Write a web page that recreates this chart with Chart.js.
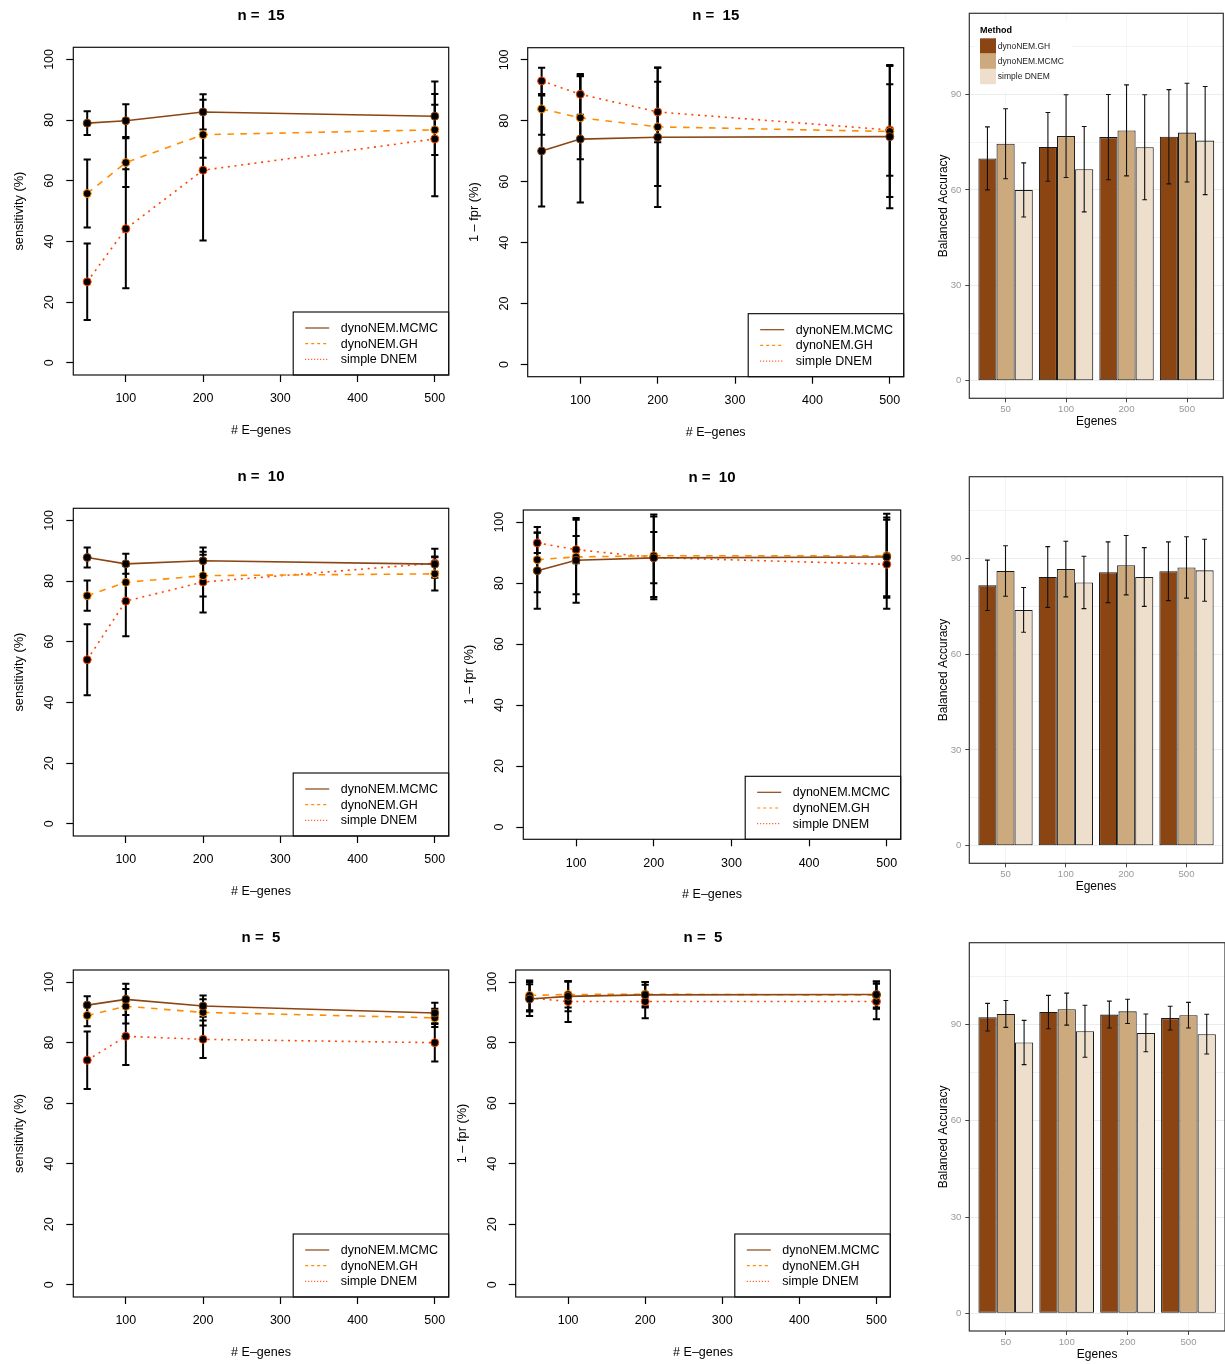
<!DOCTYPE html>
<html lang="en">
<head>
<meta charset="UTF-8">
<title>dynoNEM simulation results</title>
<script src="https://cdn.jsdelivr.net/npm/chart.js@4.4.1/dist/chart.umd.min.js"></script>
<style>
  body { margin: 0; background: #fff; }
  #page { position: relative; width: 1225px; height: 1364px; overflow: hidden; background: #fff; }
  #page canvas { position: absolute; }
</style>
</head>
<body>
<div id="page"></div>
<script>
// ---- data ----
const egenes = [50, 100, 200, 500];
const lineMethods = ['dynoNEM.MCMC', 'dynoNEM.GH', 'simple DNEM'];
const barMethods = ['dynoNEM.GH', 'dynoNEM.MCMC', 'simple DNEM'];
const pctTicks = [0, 20, 40, 60, 80, 100];
const geneTicks = [100, 200, 300, 400, 500];
const accTicks = [0, 15, 30, 45, 60, 75, 90, 105];

// rows: MCMC, GH, simple DNEM
const sens15Mean = [[79.0, 79.8, 82.7, 81.3], [55.8, 66.0, 75.2, 76.8], [26.7, 44.2, 63.5, 73.8]];
const sens15Err  = [[3.9, 5.4, 5.8, 7.3], [11.2, 8.0, 7.6, 8.3], [12.6, 19.6, 23.2, 18.9]];
const fpr15Mean  = [[70.1, 74.0, 74.6, 74.8], [83.9, 81.0, 78.0, 76.5], [93.1, 88.7, 82.9, 77.0]];
const fpr15Err   = [[18.2, 20.8, 22.9, 23.5], [8.5, 13.6, 19.4, 21.5], [4.3, 6.7, 9.9, 15.0]];
const sens10Mean = [[87.8, 85.7, 86.7, 85.6], [75.2, 79.6, 81.8, 82.4], [54.1, 73.4, 79.7, 85.9]];
const sens10Err  = [[3.3, 3.3, 4.4, 2.5], [5.0, 6.0, 6.9, 5.5], [11.7, 11.6, 10.0, 4.8]];
const fpr10Mean  = [[84.1, 87.5, 88.3, 88.6], [87.7, 88.6, 89.0, 89.0], [93.2, 91.0, 88.4, 86.2]];
const fpr10Err   = [[12.5, 13.9, 13.6, 12.9], [10.7, 12.2, 13.5, 13.8], [3.3, 4.5, 8.4, 14.6]];
const sens5Mean  = [[92.4, 94.3, 92.1, 89.8], [89.0, 92.0, 90.0, 88.2], [74.2, 82.1, 81.1, 80.0]];
const sens5Err   = [[2.9, 5.2, 3.5, 3.4], [3.6, 5.7, 4.3, 3.0], [9.5, 9.5, 6.2, 6.2]];
const fpr5Mean   = [[94.4, 95.3, 95.8, 95.9], [95.6, 95.9, 96.0, 95.7], [94.8, 93.6, 93.6, 93.6]];
const fpr5Err    = [[5.6, 4.9, 4.2, 4.3], [4.9, 4.3, 4.0, 4.5], [4.5, 6.8, 5.5, 5.9]];

// rows: GH, MCMC, simple DNEM
const acc15Mean = [[69.9, 73.5, 76.6, 76.7], [74.5, 76.9, 78.7, 78.0], [60.0, 66.5, 73.4, 75.5]];
const acc15Err  = [[9.9, 10.8, 13.4, 14.8], [11.0, 13.0, 14.3, 15.5], [8.5, 13.4, 16.5, 17.0]];
const acc10Mean = [[81.5, 84.1, 85.6, 85.9], [86.0, 86.6, 87.8, 87.1], [73.8, 82.4, 84.1, 86.2]];
const acc10Err  = [[7.9, 9.5, 9.5, 9.2], [7.9, 8.7, 9.3, 9.6], [7.0, 8.2, 9.2, 9.7]];
const acc5Mean  = [[92.3, 93.9, 93.1, 92.0], [93.3, 94.8, 94.1, 92.9], [84.4, 87.9, 87.4, 87.0]];
const acc5Err   = [[4.3, 5.2, 4.2, 3.7], [4.2, 5.0, 3.8, 4.0], [6.9, 8.1, 5.9, 6.2]];

// ---- styles ----
const lineColors = ['#8B4513', '#FF8C00', '#FF4500'];
const lineDash = [[], [6.5, 6.5], [2, 4.7]];
const legendDash = [[], [3, 3], [1, 2]];
const barColors = ['#8B4513', '#CDAA7D', '#EEDFCC'];

Chart.defaults.font.family = '"Liberation Sans", Arial, Helvetica, sans-serif';
Chart.defaults.color = '#000';

const page = document.getElementById('page');

function addCanvas(x, y, w, h) {
  const c = document.createElement('canvas');
  c.width = w; c.height = h;
  c.style.left = x + 'px'; c.style.top = y + 'px';
  c.style.width = w + 'px'; c.style.height = h + 'px';
  page.appendChild(c);
  return c;
}

// full frame around the plotting region
const frame = {
  id: 'frame',
  afterDraw(chart, args, opts) {
    const { ctx, chartArea: a } = chart;
    ctx.save();
    ctx.strokeStyle = opts.color;
    ctx.lineWidth = opts.width;
    ctx.strokeRect(a.left, a.top, a.right - a.left, a.bottom - a.top);
    ctx.restore();
  }
};

// vertical mean +/- error whiskers with caps
const errorBars = {
  id: 'errorBars',
  draw(chart, opts) {
    const { ctx } = chart;
    const ys = chart.scales.y;
    ctx.save();
    ctx.strokeStyle = opts.color;
    ctx.lineWidth = opts.width;
    chart.data.datasets.forEach((ds, i) => {
      const meta = chart.getDatasetMeta(i);
      meta.data.forEach((el, j) => {
        const v = ds.data[j].y, e = opts.errors[i][j];
        const top = ys.getPixelForValue(v + e), bot = ys.getPixelForValue(v - e);
        ctx.beginPath();
        ctx.moveTo(el.x, top); ctx.lineTo(el.x, bot);
        ctx.moveTo(el.x - opts.cap, top); ctx.lineTo(el.x + opts.cap, top);
        ctx.moveTo(el.x - opts.cap, bot); ctx.lineTo(el.x + opts.cap, bot);
        ctx.stroke();
      });
    });
    ctx.restore();
  },
  beforeDatasetsDraw(chart, args, opts) { if (opts.below) this.draw(chart, opts); },
  afterDatasetsDraw(chart, args, opts) { if (!opts.below) this.draw(chart, opts); }
};

// boxed legend in the bottom-right corner of the plot
const cornerLegend = {
  id: 'cornerLegend',
  afterDatasetsDraw(chart) {
    const { ctx, chartArea: a } = chart;
    const w = 155.5, h = 63;
    const x0 = a.right - w, y0 = a.bottom - h;
    ctx.save();
    ctx.fillStyle = '#fff';
    ctx.fillRect(x0, y0, w, h);
    ctx.strokeStyle = '#000';
    ctx.lineWidth = 1.1;
    ctx.strokeRect(x0, y0, w, h);
    ctx.font = '12.5px "Liberation Sans", Arial, sans-serif';
    ctx.textBaseline = 'middle';
    chart.data.datasets.forEach((ds, i) => {
      const y = y0 + 16 + i * 15.7;
      ctx.strokeStyle = ds.borderColor;
      ctx.lineWidth = 1.2;
      ctx.setLineDash(legendDash[i]);
      ctx.beginPath();
      ctx.moveTo(x0 + 12, y); ctx.lineTo(x0 + 36, y);
      ctx.stroke();
      ctx.setLineDash([]);
      ctx.fillStyle = '#000';
      ctx.fillText(ds.label, x0 + 47.5, y + 0.5);
    });
    ctx.restore();
  }
};

// fill-key legend in the top-left corner of the bar plot
const methodLegend = {
  id: 'methodLegend',
  afterDatasetsDraw(chart, args, opts) {
    if (!opts.show) return;
    const { ctx, chartArea: a } = chart;
    ctx.save();
    ctx.fillStyle = '#fff';
    ctx.fillRect(a.left + 5, a.top + 8, 98, 70);
    ctx.fillStyle = '#000';
    ctx.textBaseline = 'middle';
    ctx.font = 'bold 9px "Liberation Sans", Arial, sans-serif';
    ctx.fillText('Method', a.left + 10.7, a.top + 17.4);
    ctx.font = '8.5px "Liberation Sans", Arial, sans-serif';
    chart.data.datasets.forEach((ds, i) => {
      const y = a.top + 25 + i * 15.3;
      ctx.fillStyle = ds.backgroundColor;
      ctx.fillRect(a.left + 10.7, y, 16, 15.3);
      ctx.fillStyle = '#222';
      ctx.fillText(ds.label, a.left + 28.5, y + 8);
    });
    ctx.restore();
  }
};

function linePanel(box, titleY, title, yLabel, means, errs) {
  const cx = Math.round(box.l - 73), cy = Math.round(box.t - 47);
  const cw = Math.round(box.r - cx + 8), ch = Math.round(box.b - cy + 70);
  const canvas = addCanvas(cx, cy, cw, ch);
  const titleTop = titleY - cy - 9;
  const axisGrid = { drawOnChartArea: false, tickLength: 7, tickColor: '#000', tickWidth: 1.2 };
  new Chart(canvas, {
    type: 'line',
    data: {
      datasets: lineMethods.map((m, i) => ({
        label: m,
        data: egenes.map((g, j) => ({ x: g, y: means[i][j] })),
        borderColor: lineColors[i],
        borderWidth: 1.6,
        borderDash: lineDash[i],
        tension: 0,
        fill: false,
        pointRadius: 4,
        pointBackgroundColor: '#000',
        pointBorderColor: lineColors[i],
        pointBorderWidth: 1
      }))
    },
    options: {
      responsive: false,
      animation: false,
      events: [],
      layout: { padding: { left: 0, top: 0, bottom: 0, right: cx + cw - box.r } },
      scales: {
        x: {
          type: 'linear', min: 32, max: 518,
          afterBuildTicks: s => { s.ticks = geneTicks.map(v => ({ value: v })); },
          afterFit: s => { s.height = cy + ch - box.b; },
          grid: axisGrid,
          border: { display: false },
          ticks: { font: { size: 12.5 }, padding: 9.5, maxRotation: 0, autoSkip: false },
          title: { display: true, text: '# E\u2013genes', font: { size: 12.5 }, padding: { top: 0, bottom: 6.5 } }
        },
        y: {
          type: 'linear', min: -4, max: 104,
          afterBuildTicks: s => { s.ticks = pctTicks.map(v => ({ value: v })); },
          afterFit: s => { s.width = box.l - cx; },
          grid: axisGrid,
          border: { display: false },
          ticks: { font: { size: 12.5 }, minRotation: 90, maxRotation: 90, crossAlign: 'center', padding: 6, autoSkip: false },
          title: { display: true, text: yLabel, font: { size: 12.8 }, padding: { top: box.l - cx - 53.5 - 7.7, bottom: 0 } }
        }
      },
      plugins: {
        legend: { display: false },
        tooltip: { enabled: false },
        title: {
          display: true, text: title, fullSize: false,
          font: { size: 15, weight: 'bold' },
          padding: { top: titleTop, bottom: box.t - cy - 18 - titleTop }
        },
        frame: { color: '#111', width: 1.2 },
        errorBars: { errors: errs, cap: 3.6, width: 2, color: '#000', below: true }
      }
    },
    plugins: [frame, errorBars, cornerLegend]
  });
}

function barPanel(box, means, errs, showLegend) {
  const cx = 925, cw = 300;
  const cy = Math.round(box.t - 13), ch = Math.round(box.b - cy + 35);
  const canvas = addCanvas(cx, cy, cw, ch);
  new Chart(canvas, {
    type: 'bar',
    data: {
      datasets: barMethods.map((m, i) => ({
        label: m,
        data: egenes.map((g, j) => ({ x: j + 1, y: means[i][j] })),
        backgroundColor: barColors[i],
        borderColor: '#1a1a1a',
        borderWidth: 1.1,
        borderSkipped: false,
        categoryPercentage: 0.9,
        barPercentage: 1.0
      }))
    },
    options: {
      responsive: false,
      animation: false,
      events: [],
      layout: { padding: { left: 0, bottom: 0, top: box.t - cy, right: Math.max(0, cx + cw - box.r) } },
      scales: {
        x: {
          type: 'linear', min: 0.4, max: 4.6, offset: false,
          afterBuildTicks: s => { s.ticks = egenes.map((g, j) => ({ value: j + 1 })); },
          afterFit: s => { s.height = cy + ch - box.b; },
          grid: { offset: false, color: '#f4f4f4', tickColor: '#444', tickLength: 4, lineWidth: 1 },
          border: { display: false },
          ticks: { callback: v => egenes[v - 1], font: { size: 9.6 }, color: '#999', padding: 1.5, maxRotation: 0, autoSkip: false },
          title: { display: true, text: 'Egenes', font: { size: 12 }, padding: { top: 0, bottom: 4.3 } }
        },
        y: {
          type: 'linear', min: -5.5, max: 115.5,
          afterBuildTicks: s => { s.ticks = accTicks.map(v => ({ value: v })); },
          afterFit: s => { s.width = box.l - cx; },
          grid: {
            color: '#ececec',
            lineWidth: c => (c.tick && c.tick.value % 30 === 0 ? 1 : 0.7),
            tickColor: c => (c.tick && c.tick.value % 30 === 0 ? '#444' : 'rgba(0,0,0,0)'),
            tickLength: 4
          },
          border: { display: false },
          ticks: { callback: v => (v % 30 === 0 ? v : ''), font: { size: 9.6 }, color: '#999', padding: 4, autoSkip: false },
          title: { display: true, text: 'Balanced Accuracy', font: { size: 12 }, padding: { top: 11, bottom: 0 } }
        }
      },
      plugins: {
        legend: { display: false },
        tooltip: { enabled: false },
        frame: { color: '#333', width: 1.2 },
        errorBars: { errors: errs, cap: 2.4, width: 1.1, color: '#111', below: false },
        methodLegend: { show: showLegend }
      }
    },
    plugins: [frame, errorBars, methodLegend]
  });
}

// ---- panels ----
linePanel({ l: 73.3, t: 47.3, r: 448.7, b: 375 }, 16, 'n =  15', 'sensitivity (%)', sens15Mean, sens15Err);
linePanel({ l: 527.7, t: 47.7, r: 903.7, b: 376.7 }, 16, 'n =  15', '1 \u2013 fpr (%)', fpr15Mean, fpr15Err);
barPanel({ l: 969.3, t: 13.3, r: 1223.3, b: 398.3 }, acc15Mean, acc15Err, true);

linePanel({ l: 73.3, t: 508.3, r: 448.7, b: 836 }, 477, 'n =  10', 'sensitivity (%)', sens10Mean, sens10Err);
linePanel({ l: 523.3, t: 510, r: 900.7, b: 839.3 }, 478, 'n =  10', '1 \u2013 fpr (%)', fpr10Mean, fpr10Err);
barPanel({ l: 969.3, t: 476.7, r: 1222.7, b: 863.3 }, acc10Mean, acc10Err, false);

linePanel({ l: 73.3, t: 970, r: 448.7, b: 1297 }, 938, 'n =  5', 'sensitivity (%)', sens5Mean, sens5Err);
linePanel({ l: 515.7, t: 970, r: 890.3, b: 1297 }, 938, 'n =  5', '1 \u2013 fpr (%)', fpr5Mean, fpr5Err);
barPanel({ l: 969.3, t: 942.7, r: 1225.5, b: 1331 }, acc5Mean, acc5Err, false);
</script>
</body>
</html>
